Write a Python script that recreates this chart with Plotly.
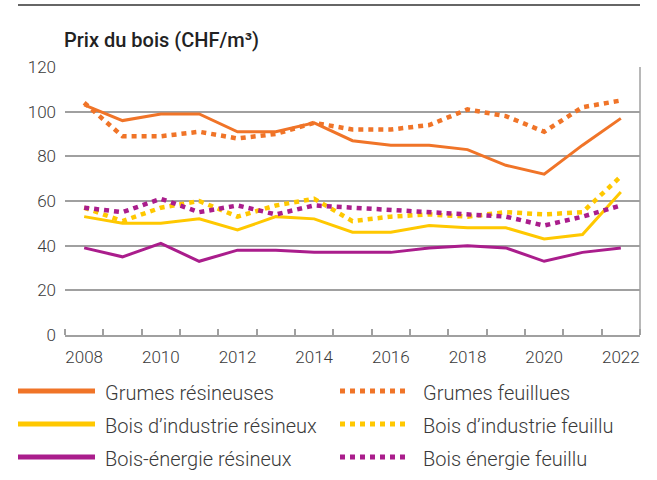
import plotly.graph_objects as go

years = list(range(2008, 2023))
grumes_resineuses = [103, 96, 99, 99, 91, 91, 95, 87, 85, 85, 83, 76, 72, 85, 97]
grumes_feuillues = [104, 89, 89, 91, 88, 90, 95, 92, 92, 94, 101, 98, 91, 102, 105]
industrie_resineux = [53, 50, 50, 52, 47, 53, 52, 46, 46, 49, 48, 48, 43, 45, 64]
industrie_feuillu = [57, 51, 57, 60, 53, 58, 61, 51, 53, 54, 53, 55, 54, 55, 71]
energie_resineux = [39, 35, 41, 33, 38, 38, 37, 37, 37, 39, 40, 39, 33, 37, 39]
energie_feuillu = [57, 55, 61, 55, 58, 54, 58, 57, 56, 55, 54, 53, 49, 53, 58]

names = ["Grumes résineuses", "Grumes feuillues",
         "Bois d’industrie résineux", "Bois d’industrie feuillu",
         "Bois-énergie résineux", "Bois énergie feuillu"]
values = [grumes_resineuses, grumes_feuillues, industrie_resineux,
          industrie_feuillu, energie_resineux, energie_feuillu]

ORANGE = "#F07428"
YELLOW = "#FFC800"
PURPLE = "#AA1D8C"
colors = [ORANGE, ORANGE, YELLOW, YELLOW, PURPLE, PURPLE]
dotted = [False, True, False, True, False, True]

FONT = "Roboto"
TXT = "#3a3a3a"
GRID = "#a0a0a0"

# plot area in pixels
L, R, T, B = 65, 640, 67, 335
W, H = 657, 480
pw, ph = R - L, B - T

def px_x(x):
    return (x - L) / pw

def px_y(y):
    return (B - y) / ph

fig = go.Figure()
for name, vals, col, dot in zip(names, values, colors, dotted):
    fig.add_trace(go.Scatter(
        x=years, y=vals, mode="lines", name=name, showlegend=False,
        line=dict(color=col, width=4.5 if dot else 3,
                  dash="5px,5px" if dot else "solid"),
    ))

shapes = []
annotations = []

# top rule
shapes.append(dict(type="line", xref="paper", yref="paper",
                   x0=px_x(18), x1=1, y0=px_y(5), y1=px_y(5),
                   line=dict(color="#333333", width=1.5)))
# right border
shapes.append(dict(type="line", xref="paper", yref="paper",
                   x0=1, x1=1, y0=0, y1=1,
                   line=dict(color=GRID, width=1.5)))

# title
annotations.append(dict(text="Prix du bois (CHF/m³)", xref="paper", yref="paper",
                        x=px_x(62), y=px_y(40), xanchor="left", yanchor="middle",
                        showarrow=False,
                        font=dict(family=FONT, size=20, color="#222222", weight=500)))

# manual legend
rows_y = [391, 424, 457]
cols = [(18, 95, 103), (340, 408, 421)]
for i, (name, col, dot) in enumerate(zip(names, colors, dotted)):
    r, c = divmod(i, 2)
    x0, x1, xt = cols[c]
    y = rows_y[r]
    shapes.append(dict(type="line", xref="paper", yref="paper",
                       x0=px_x(x0), x1=px_x(x1), y0=px_y(y), y1=px_y(y),
                       line=dict(color=col, width=5,
                                 dash="5px,5px" if dot else "solid")))
    annotations.append(dict(text=name, xref="paper", yref="paper",
                            x=px_x(xt), y=px_y(y + 2), xanchor="left", yanchor="middle",
                            showarrow=False,
                            font=dict(family=FONT, size=20, color=TXT, weight=300)))

fig.update_layout(
    width=W, height=H,
    margin=dict(l=L, r=W - R, t=T, b=H - B, pad=0),
    plot_bgcolor="white", paper_bgcolor="white",
    font=dict(family=FONT, size=17, color=TXT, weight=300),
    shapes=shapes, annotations=annotations,
    showlegend=False,
    xaxis=dict(
        range=[2007.5, 2022.5], tickmode="array",
        tickvals=list(range(2008, 2023, 2)),
        ticks="", showgrid=False, zeroline=False,
        showline=True, linecolor=GRID, linewidth=1.5,
        ticklabelstandoff=6,
        tickfont=dict(family=FONT, size=17, color=TXT, weight=300),
        minor=dict(tickmode="linear", tick0=2007.5, dtick=1,
                   ticks="inside", ticklen=6, tickwidth=1.5,
                   tickcolor=GRID, showgrid=False),
    ),
    yaxis=dict(
        range=[0, 120], dtick=20, tick0=0,
        ticks="", showgrid=True, gridcolor=GRID, gridwidth=1.5,
        zeroline=False, showline=False,
        ticklabelstandoff=8,
        tickfont=dict(family=FONT, size=17, color=TXT, weight=300),
    ),
)

fig.write_html("out.html",
               config={"displayModeBar": False},
               post_script="document.body.style.margin='0px';document.body.style.overflow='hidden';")
